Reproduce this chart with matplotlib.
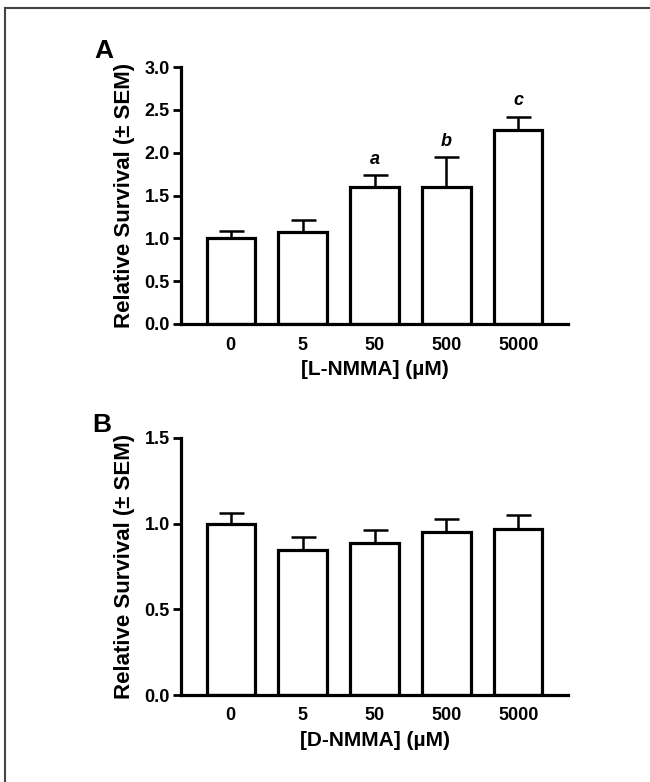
import matplotlib
matplotlib.use("Agg")
import matplotlib.pyplot as plt
from matplotlib.lines import Line2D

plt.rcParams["font.family"] = ["Liberation Sans", "DejaVu Sans"]
plt.rcParams["font.weight"] = "bold"

# ── data ─────────────────────────────────────
doses = ["0", "5", "50", "500", "5000"]
lnmma_mean = [1.00, 1.07, 1.595, 1.595, 2.27]
lnmma_sem = [0.08, 0.14, 0.14, 0.35, 0.15]
lnmma_marks = ["", "", "a", "b", "c"]
dnmma_mean = [1.00, 0.845, 0.888, 0.952, 0.969]
dnmma_sem = [0.06, 0.08, 0.075, 0.075, 0.08]

fig = plt.figure(figsize=(6.5, 7.82), dpi=100)
W, H = 650, 782


def panel(rect_px, means, sems, ymax, yticks, xlabel, marks=None):
    l, t, r, b = rect_px
    ax = fig.add_axes([l / W, 1 - b / H, (r - l) / W, (b - t) / H])
    x = range(len(means))
    ax.errorbar(x, means, yerr=[[0] * len(sems), sems], fmt="none",
                ecolor="black", elinewidth=1.8, capsize=9, capthick=1.8, zorder=1)
    ax.bar(x, means, width=0.67, color="white", edgecolor="black", linewidth=2.3, zorder=2)
    if marks:
        for i, m in enumerate(marks):
            if m:
                ax.text(i, means[i] + sems[i] + ymax * 0.03, m, ha="center", va="bottom",
                        fontsize=13, style="italic", fontweight="bold")
    ax.set_xlim(-0.69, 4.69)
    ax.set_ylim(0, ymax)
    ax.set_yticks(yticks)
    ax.set_yticklabels([f"{v:.1f}" for v in yticks], fontsize=13, fontweight="bold")
    ax.set_xticks(list(x))
    ax.set_xticklabels(doses, fontsize=13, fontweight="bold")
    ax.tick_params(axis="x", length=0, pad=9)
    ax.tick_params(axis="y", length=6, width=2, direction="out", pad=2)
    for s in ["top", "right"]:
        ax.spines[s].set_visible(False)
    for s in ["left", "bottom"]:
        ax.spines[s].set_linewidth(2.3)
    ax.set_xlabel(xlabel, fontsize=15, fontweight="bold", labelpad=5)
    ax.set_ylabel("Relative Survival (\u00b1 SEM)", fontsize=16, fontweight="bold")
    ax.yaxis.set_label_coords(-0.12, 0.5)
    return ax


axA = panel((181, 67, 568, 324), lnmma_mean, lnmma_sem, 3.0,
            [0.0, 0.5, 1.0, 1.5, 2.0, 2.5, 3.0], "[L-NMMA] (\u00b5M)", lnmma_marks)
axB = panel((181, 438, 568, 695), dnmma_mean, dnmma_sem, 1.5,
            [0.0, 0.5, 1.0, 1.5], "[D-NMMA] (\u00b5M)")

fig.text(104 / W, 1 - 51 / H, "A", fontsize=19, fontweight="bold", ha="center", va="center")
fig.text(102 / W, 1 - 425 / H, "B", fontsize=19, fontweight="bold", ha="center", va="center")

# frame lines (top and left)
fig.add_artist(Line2D([5 / W, 1], [1 - 8 / H, 1 - 8 / H], color="#444444", linewidth=1.5,
                      transform=fig.transFigure))
fig.add_artist(Line2D([5 / W, 5 / W], [0, 1 - 8 / H], color="#444444", linewidth=1.5,
                      transform=fig.transFigure))

fig.savefig("out.png", dpi=100)
